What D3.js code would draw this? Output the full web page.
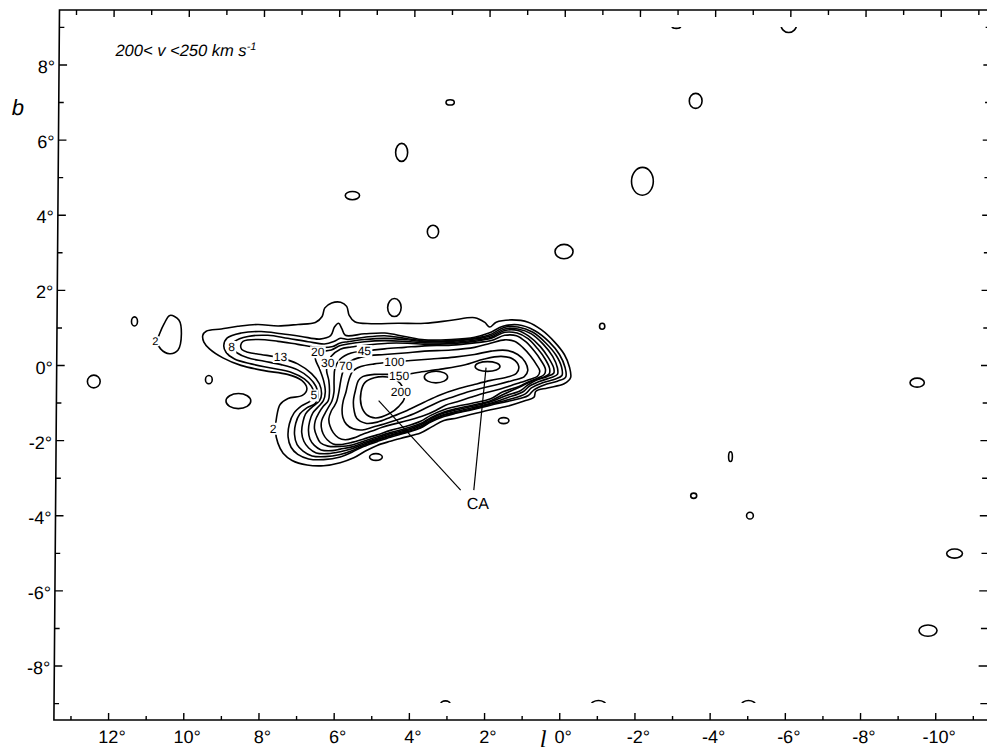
<!DOCTYPE html>
<html>
<head>
<meta charset="utf-8">
<script src="https://cdn.jsdelivr.net/npm/d3@7"></script>
<style>
  body { margin: 0; background: #fff; }
  text { font-family: "Liberation Sans", Arial, sans-serif; fill: #000; }
</style>
</head>
<body>
<svg id="chart" width="987" height="754"></svg>
<script>
// ---- Map extent (galactic longitude l, latitude b, degrees) ----
const lRange = [13.44, -11.41];
const bRange = [-9.45, 9.45];
const bData = [-9, 9];               // latitude limits of the survey data

// ---- Axis ticks ----
const lMajor = [12, 10, 8, 6, 4, 2, 0, -2, -4, -6, -8, -10];
const lMinor = [13, 11, 9, 7, 5, 3, 1, -1, -3, -5, -7, -9, -11];
const bMajor = [8, 6, 4, 2, 0, -2, -4, -6, -8];
const bMinor = [9, 7, 5, 3, 1, -1, -3, -5, -7, -9];

// ---- Contour lines of the main emission complex, [l, b] ----
const contour2 = [[9.56,0.79],[9.47,0.90],[9.07,0.96],[8.63,1.03],[8.10,1.08],[7.56,1.04],[7.03,1.08],[6.57,1.13],[6.39,1.29],[6.32,1.52],[6.14,1.65],[5.90,1.67],[5.74,1.56],[5.67,1.32],[5.52,1.15],[5.08,1.10],[4.37,1.11],[3.66,1.11],[2.95,1.19],[2.33,1.26],[2.07,1.14],[1.93,1.01],[1.76,1.14],[1.36,1.20],[0.91,1.14],[0.56,0.94],[0.20,0.61],[-0.06,0.28],[-0.20,-0.06],[-0.23,-0.34],[-0.06,-0.50],[0.38,-0.61],[0.69,-0.70],[0.74,-0.86],[1.00,-0.96],[1.45,-1.10],[1.98,-1.21],[2.42,-1.32],[2.78,-1.41],[3.13,-1.48],[3.44,-1.64],[3.75,-1.81],[4.15,-1.92],[4.55,-2.03],[4.90,-2.14],[5.21,-2.29],[5.52,-2.47],[5.88,-2.60],[6.32,-2.68],[6.76,-2.66],[7.16,-2.54],[7.40,-2.35],[7.54,-2.08],[7.61,-1.74],[7.58,-1.39],[7.49,-1.05],[7.28,-0.89],[6.90,-0.81],[6.78,-0.63],[6.92,-0.41],[7.30,-0.25],[7.92,-0.15],[8.54,-0.01],[9.02,0.19],[9.38,0.43],[9.53,0.61]];
const contour5 = [[9.00,0.52],[8.91,0.72],[8.54,0.85],[8.01,0.89],[7.47,0.83],[6.94,0.76],[6.45,0.69],[6.16,0.78],[6.06,1.01],[5.95,1.11],[5.86,0.96],[5.77,0.79],[5.26,0.83],[4.72,0.85],[4.19,0.76],[3.66,0.67],[2.95,0.68],[2.33,0.74],[1.95,0.85],[1.58,1.03],[1.18,1.07],[0.74,0.92],[0.34,0.61],[0.07,0.28],[-0.08,-0.06],[-0.10,-0.32],[0.12,-0.43],[0.47,-0.53],[0.74,-0.66],[0.90,-0.82],[1.36,-0.95],[1.89,-1.07],[2.38,-1.19],[2.78,-1.28],[3.13,-1.37],[3.48,-1.52],[3.75,-1.68],[4.15,-1.81],[4.55,-1.92],[4.90,-2.04],[5.26,-2.17],[5.57,-2.32],[5.88,-2.45],[6.32,-2.52],[6.72,-2.50],[7.01,-2.38],[7.19,-2.19],[7.27,-1.92],[7.24,-1.57],[7.12,-1.28],[6.92,-1.09],[6.68,-0.95],[6.60,-0.72],[6.66,-0.57],[6.85,-0.37],[7.21,-0.19],[7.74,-0.08],[8.27,0.03],[8.71,0.16],[8.94,0.34]];
const contour8 = [[8.79,0.47],[8.71,0.63],[8.36,0.76],[7.83,0.79],[7.30,0.71],[6.76,0.62],[6.32,0.56],[6.06,0.63],[5.90,0.71],[5.70,0.68],[5.26,0.74],[4.72,0.78],[4.19,0.71],[3.66,0.64],[2.95,0.65],[2.33,0.71],[1.91,0.81],[1.55,1.00],[1.18,1.01],[0.78,0.87],[0.43,0.58],[0.16,0.26],[0.01,-0.06],[0.00,-0.28],[0.19,-0.38],[0.51,-0.47],[0.81,-0.61],[0.97,-0.77],[1.40,-0.92],[1.89,-1.04],[2.38,-1.17],[2.78,-1.26],[3.13,-1.34],[3.48,-1.50],[3.75,-1.66],[4.15,-1.79],[4.55,-1.89],[4.90,-2.01],[5.26,-2.14],[5.57,-2.28],[5.88,-2.38],[6.28,-2.44],[6.63,-2.42],[6.87,-2.29],[7.03,-2.12],[7.10,-1.85],[7.07,-1.55],[6.96,-1.30],[6.78,-1.14],[6.55,-1.02],[6.48,-0.81],[6.54,-0.57],[6.72,-0.34],[7.03,-0.13],[7.47,0.01],[7.92,0.10],[8.36,0.19],[8.64,0.32]];
const contour13 = [[8.55,0.52],[8.49,0.63],[8.09,0.68],[7.56,0.63],[7.03,0.55],[6.50,0.47],[6.10,0.49],[5.92,0.58],[5.70,0.62],[5.26,0.68],[4.72,0.71],[4.19,0.68],[3.66,0.62],[2.95,0.63],[2.33,0.69],[1.89,0.78],[1.53,0.96],[1.18,0.96],[0.82,0.83],[0.50,0.55],[0.25,0.23],[0.12,-0.08],[0.12,-0.25],[0.28,-0.33],[0.60,-0.44],[0.87,-0.57],[1.04,-0.72],[1.45,-0.87],[1.89,-1.02],[2.38,-1.14],[2.78,-1.23],[3.13,-1.32],[3.48,-1.47],[3.75,-1.63],[4.15,-1.76],[4.55,-1.87],[4.90,-1.98],[5.26,-2.11],[5.57,-2.23],[5.88,-2.31],[6.21,-2.36],[6.52,-2.34],[6.72,-2.21],[6.85,-2.03],[6.91,-1.79],[6.88,-1.52],[6.81,-1.30],[6.66,-1.14],[6.44,-0.95],[6.39,-0.77],[6.45,-0.50],[6.66,-0.23],[7.03,0.03],[7.49,0.19],[8.01,0.28],[8.36,0.34],[8.52,0.41]];
const contour20 = [[6.50,0.34],[6.14,0.40],[5.92,0.51],[5.70,0.56],[5.26,0.62],[4.72,0.65],[4.19,0.63],[3.66,0.59],[2.95,0.60],[2.33,0.66],[1.89,0.74],[1.53,0.92],[1.18,0.92],[0.89,0.77],[0.58,0.49],[0.36,0.19],[0.22,-0.08],[0.22,-0.22],[0.40,-0.31],[0.70,-0.41],[0.93,-0.55],[1.09,-0.68],[1.49,-0.82],[1.89,-0.98],[2.38,-1.10],[2.78,-1.19],[3.13,-1.28],[3.48,-1.43],[3.75,-1.59],[4.15,-1.73],[4.55,-1.83],[4.90,-1.95],[5.26,-2.07],[5.57,-2.18],[5.88,-2.24],[6.10,-2.28],[6.39,-2.26],[6.57,-2.14],[6.69,-1.97],[6.73,-1.74],[6.70,-1.50],[6.62,-1.28],[6.48,-1.12],[6.34,-0.95],[6.29,-0.72],[6.34,-0.41],[6.45,-0.10],[6.55,0.12],[6.57,0.28]];
const contour30 = [[6.23,0.05],[6.14,0.23],[5.90,0.42],[5.61,0.48],[5.17,0.53],[4.64,0.58],[4.11,0.58],[3.57,0.55],[2.95,0.57],[2.33,0.63],[1.89,0.71],[1.53,0.87],[1.20,0.85],[0.91,0.70],[0.65,0.43],[0.45,0.16],[0.33,-0.09],[0.34,-0.24],[0.51,-0.33],[0.81,-0.43],[1.05,-0.55],[1.18,-0.61],[1.53,-0.77],[1.89,-0.95],[2.38,-1.07],[2.78,-1.16],[3.13,-1.25],[3.48,-1.40],[3.75,-1.56],[4.15,-1.69],[4.55,-1.80],[4.90,-1.91],[5.26,-2.03],[5.57,-2.13],[5.88,-2.17],[6.21,-2.16],[6.41,-2.07],[6.51,-1.89],[6.57,-1.70],[6.55,-1.48],[6.46,-1.28],[6.34,-1.10],[6.21,-0.95],[6.18,-0.72],[6.20,-0.41],[6.26,-0.15]];
const contour45 = [[5.26,0.37],[4.72,0.43],[4.19,0.47],[3.66,0.51],[2.95,0.53],[2.33,0.59],[1.89,0.65],[1.53,0.79],[1.22,0.78],[0.97,0.62],[0.74,0.37],[0.56,0.12],[0.44,-0.11],[0.47,-0.25],[0.65,-0.35],[0.91,-0.46],[1.14,-0.57],[1.58,-0.72],[1.89,-0.90],[2.38,-1.02],[2.78,-1.10],[3.13,-1.19],[3.48,-1.34],[3.75,-1.50],[4.15,-1.64],[4.55,-1.74],[4.90,-1.86],[5.26,-1.97],[5.57,-2.06],[5.88,-2.12],[6.07,-2.10],[6.23,-1.99],[6.34,-1.83],[6.39,-1.65],[6.38,-1.48],[6.29,-1.28],[6.19,-1.10],[6.11,-0.95],[6.06,-0.72],[6.06,-0.41],[6.04,-0.10],[5.90,0.16],[5.61,0.32]];
const contour70 = [[5.75,-0.04],[5.59,0.12],[5.26,0.23],[4.72,0.28],[4.19,0.32],[3.66,0.37],[2.95,0.40],[2.33,0.47],[1.91,0.58],[1.53,0.67],[1.27,0.63],[1.05,0.47],[0.84,0.24],[0.68,0.01],[0.59,-0.16],[0.65,-0.30],[0.84,-0.38],[1.09,-0.46],[1.36,-0.55],[1.71,-0.66],[2.07,-0.75],[2.42,-0.86],[2.78,-0.98],[3.09,-1.07],[3.35,-1.21],[3.64,-1.34],[4.02,-1.46],[4.50,-1.58],[4.77,-1.66],[5.04,-1.76],[5.30,-1.85],[5.52,-1.94],[5.75,-1.99],[5.93,-1.94],[6.07,-1.80],[6.16,-1.62],[6.19,-1.43],[6.13,-1.23],[6.04,-1.08],[5.98,-0.95],[5.93,-0.72],[5.88,-0.41],[5.83,-0.19]];
const contour100 = [[4.46,0.08],[4.02,0.12],[3.48,0.16],[2.86,0.21],[2.33,0.28],[1.89,0.37],[1.49,0.39],[1.18,0.28],[0.98,0.08],[0.91,-0.15],[1.00,-0.31],[1.31,-0.41],[1.71,-0.52],[2.11,-0.61],[2.51,-0.72],[2.86,-0.84],[3.22,-0.96],[3.56,-1.12],[3.93,-1.30],[4.37,-1.46],[4.72,-1.57],[5.01,-1.65],[5.30,-1.73],[5.54,-1.70],[5.72,-1.58],[5.82,-1.39],[5.84,-1.17],[5.81,-0.95],[5.74,-0.72],[5.67,-0.41],[5.56,-0.16],[5.35,-0.04],[4.99,0.03]];
const contour150 = [[4.33,-0.28],[3.84,-0.20],[3.22,-0.11],[2.60,0.00],[2.07,0.16],[1.62,0.23],[1.31,0.16],[1.15,-0.04],[1.21,-0.22],[1.45,-0.32],[1.89,-0.41],[2.33,-0.52],[2.78,-0.64],[3.22,-0.79],[3.66,-0.99],[4.11,-1.21],[4.55,-1.39],[4.90,-1.52],[5.21,-1.55],[5.45,-1.42],[5.52,-1.21],[5.54,-0.95],[5.49,-0.68],[5.41,-0.41],[5.30,-0.31],[4.99,-0.25],[4.64,-0.25]];
const contour200 = [[4.64,-0.32],[4.99,-0.34],[5.24,-0.47],[5.34,-0.72],[5.33,-1.08],[5.19,-1.32],[4.95,-1.41],[4.59,-1.30],[4.33,-1.10],[4.19,-0.90],[4.22,-0.61],[4.39,-0.41]];
// isolated level-2 loop near l = 10.4 deg
const contourWest2 = [[10.44,1.32],[10.59,1.10],[10.71,0.83],[10.77,0.63],[10.68,0.43],[10.44,0.30],[10.22,0.39],[10.13,0.83],[10.20,1.20]];

const contourRings = [
  { level: 2, pts: contour2 }, { level: 5, pts: contour5 }, { level: 8, pts: contour8 },
  { level: 13, pts: contour13 }, { level: 20, pts: contour20 }, { level: 30, pts: contour30 },
  { level: 45, pts: contour45 }, { level: 70, pts: contour70 }, { level: 100, pts: contour100 },
  { level: 150, pts: contour150 }, { level: 200, pts: contour200 }, { level: 2, pts: contourWest2 }
];

// ---- Small closed contours: [l, b, half-width in l, half-height in b] ----
const smallClouds = [
  [12.45,-0.44,0.17,0.17], [11.38,1.16,0.08,0.12], [9.39,-0.39,0.09,0.11], [8.60,-0.96,0.33,0.20],
  [4.47,1.53,0.18,0.24], [4.93,-2.45,0.17,0.09], [1.54,-1.48,0.14,0.08],
  [5.61,4.51,0.19,0.11], [4.31,5.66,0.16,0.24], [3.03,6.99,0.11,0.07], [3.46,3.55,0.15,0.17],
  [-0.03,3.02,0.24,0.19], [-2.10,4.89,0.29,0.37], [-3.50,7.03,0.17,0.20], [-1.06,1.03,0.07,0.08],
  [-9.45,-0.47,0.19,0.12], [-4.50,-2.44,0.05,0.13], [-3.53,-3.48,0.08,0.07], [-5.03,-4.01,0.09,0.09],
  [-10.48,-5.02,0.21,0.12], [-9.79,-7.07,0.24,0.15],
  // peaks inside the 150 contour
  [3.35,-0.32,0.31,0.155], [1.98,-0.04,0.33,0.13],
  // contours cut by the edge of the survey
  [-5.96,9.07,0.21,0.22], [-2.97,9.03,0.12,0.07], [-1.04,-9.06,0.20,0.13], [-5.03,-9.06,0.19,0.13], [3.03,-9.04,0.13,0.10]
];

// ---- Contour labels ----
const labelText = ["2", "2", "5", "8", "13", "20", "30", "45", "70", "100", "150", "200"];
const labelL    = [10.82, 7.67, 6.59, 8.79, 7.49, 6.50, 6.23, 5.26, 5.75, 4.46, 4.33, 4.28];
const labelB    = [0.63, -1.70, -0.81, 0.48, 0.21, 0.34, 0.05, 0.37, -0.04, 0.08, -0.28, -0.72];

// ---- CA pointer lines: [l1, b1, l2, b2] and label position ----
const caLines = [[4.87,-0.95,2.67,-3.33], [2.02,-0.07,2.32,-3.33]];
const caLabel = [2.21, -3.70];

// ---------------------------------------------------------------
const svg = d3.select("#chart");
svg.append("rect").attr("width", 987).attr("height", 754).attr("fill", "#fff");

const x = d3.scaleLinear().domain(lRange).range([56.7, 991]);
const y = d3.scaleLinear().domain(bRange).range([720, 10]);

// whole plate is slightly sheared
const plate = svg.append("g")
  .attr("transform", `translate(0,${y(0)}) skewX(-0.45) translate(0,${-y(0)})`);

plate.append("clipPath").attr("id", "dataClip")
  .append("rect")
  .attr("x", x(lRange[0])).attr("y", y(bData[1]))
  .attr("width", x(lRange[1]) - x(lRange[0]))
  .attr("height", y(bData[0]) - y(bData[1]));

const maps = plate.append("g").attr("clip-path", "url(#dataClip)")
  .attr("fill", "none").attr("stroke", "#000").attr("stroke-width", 1.6)
  .attr("stroke-linejoin", "round");

const ringLine = d3.line()
  .x(d => x(d[0])).y(d => y(d[1]))
  .curve(d3.curveCatmullRomClosed.alpha(0.5));

maps.selectAll("path.ring").data(contourRings).join("path")
  .attr("class", "ring").attr("d", d => ringLine(d.pts));

maps.selectAll("ellipse").data(smallClouds).join("ellipse")
  .attr("cx", d => x(d[0])).attr("cy", d => y(d[1]))
  .attr("rx", d => Math.abs(x(d[0] + d[2]) - x(d[0])))
  .attr("ry", d => Math.abs(y(d[1] + d[3]) - y(d[1])));

// contour labels break their lines
const lab = plate.append("g");
labelText.forEach((s, i) => {
  const g = lab.append("g");
  const t = g.append("text")
    .attr("x", x(labelL[i])).attr("y", y(labelB[i]))
    .attr("text-anchor", "middle").attr("dominant-baseline", "central")
    .attr("font-size", i === 0 ? 11 : 12).text(s);
  const bb = t.node().getBBox();
  g.insert("rect", "text")
    .attr("x", bb.x - 1).attr("y", bb.y + 1).attr("width", bb.width + 2).attr("height", bb.height - 2)
    .attr("fill", "#fff");
});

// CA pointers
plate.append("g").selectAll("line").data(caLines).join("line")
  .attr("x1", d => x(d[0])).attr("y1", d => y(d[1]))
  .attr("x2", d => x(d[2])).attr("y2", d => y(d[3]))
  .attr("stroke", "#000").attr("stroke-width", 1.2);
plate.append("text").attr("x", x(caLabel[0])).attr("y", y(caLabel[1]))
  .attr("text-anchor", "middle").attr("dominant-baseline", "central")
  .attr("font-size", 16).text("CA");

// ---- Frame and axes ----
const fx0 = x(lRange[0]), fx1 = x(lRange[1]), fy0 = y(bRange[1]), fy1 = y(bRange[0]);
plate.append("rect").attr("x", fx0).attr("y", fy0).attr("width", fx1 - fx0).attr("height", fy1 - fy0)
  .attr("fill", "none").attr("stroke", "#000").attr("stroke-width", 1.6);

function styleAxis(g) {
  g.select(".domain").remove();
  g.selectAll(".tick line").attr("stroke", "#000").attr("stroke-width", 1.4);
  g.selectAll(".tick text").attr("font-size", 18).attr("font-family", '"Liberation Sans", Arial, sans-serif');
}
const deg = d => d + "\u00B0";

plate.append("g").attr("transform", `translate(0,${fy1})`)
  .call(d3.axisBottom(x).tickValues(lMajor).tickSize(-7).tickPadding(10).tickFormat(deg))
  .call(styleAxis).call(g => g.selectAll(".tick text").attr("dx", "0.2em"));
plate.append("g").attr("transform", `translate(0,${fy1})`)
  .call(d3.axisBottom(x).tickValues(lMinor).tickSize(-4).tickFormat(""))
  .call(styleAxis);

plate.append("g").attr("transform", `translate(0,${fy0})`)
  .call(d3.axisTop(x).tickValues(lMajor).tickSize(-7).tickFormat(""))
  .call(styleAxis);
plate.append("g").attr("transform", `translate(0,${fy0})`)
  .call(d3.axisTop(x).tickValues(lMinor).tickSize(-5).tickFormat(""))
  .call(styleAxis);

plate.append("g").attr("transform", `translate(${fx0},0)`)
  .call(d3.axisLeft(y).tickValues(bMajor).tickSize(-8).tickPadding(4).tickFormat(deg))
  .call(styleAxis).call(g => g.selectAll(".tick text").attr("dy", "0.45em"));
plate.append("g").attr("transform", `translate(${fx0},0)`)
  .call(d3.axisLeft(y).tickValues(bMinor).tickSize(-5).tickFormat(""))
  .call(styleAxis);

plate.append("g").attr("transform", `translate(${fx1},0)`)
  .call(d3.axisRight(y).tickValues(bMajor).tickSize(-10).tickFormat(""))
  .call(styleAxis);
plate.append("g").attr("transform", `translate(${fx1},0)`)
  .call(d3.axisRight(y).tickValues(bMinor).tickSize(-8).tickFormat(""))
  .call(styleAxis);

// axis titles and velocity range
plate.append("text").attr("x", 16).attr("y", 115)
  .attr("text-anchor", "middle").attr("font-size", 22).attr("font-style", "italic").text("b");
plate.append("text").attr("x", 546).attr("y", 747)
  .attr("text-anchor", "middle").attr("font-size", 24).attr("font-style", "italic")
  .style("font-family", '"Liberation Serif", serif').text("l");

const title = plate.append("text").attr("x", 113).attr("y", 56)
  .attr("font-size", 16.5).attr("font-style", "italic");
title.append("tspan").text("200< v <250 km s");
title.append("tspan").attr("dy", -6).attr("font-size", 11).text("-1");
</script>
</body>
</html>
